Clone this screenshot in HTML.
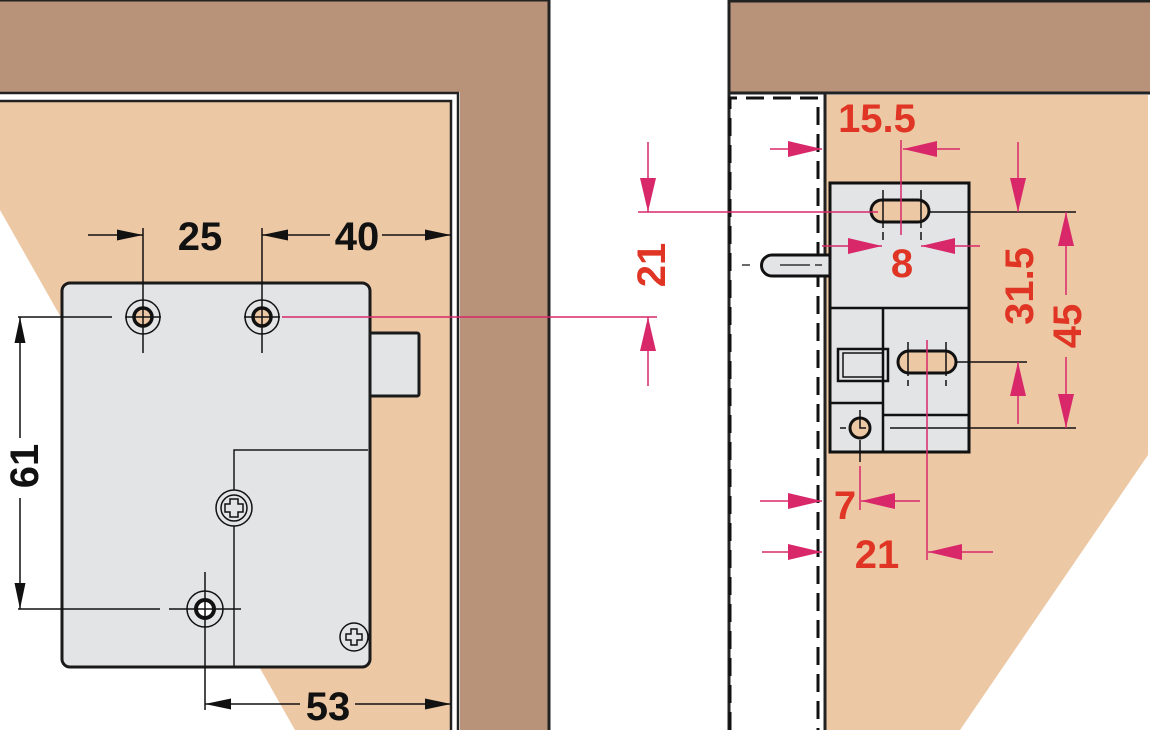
<!DOCTYPE html>
<html><head><meta charset="utf-8"><style>
html,body{margin:0;padding:0;background:#fff}
svg{display:block}
text{font-family:"Liberation Sans",sans-serif;font-weight:bold}
</style></head><body>
<svg width="1150" height="730" viewBox="0 0 1150 730" xmlns="http://www.w3.org/2000/svg">
<defs>
<marker id="m" viewBox="0 0 34 16" refX="34" refY="8" markerWidth="34" markerHeight="16" markerUnits="userSpaceOnUse" orient="auto"><path d="M0,0 L34,8 L0,16 Z" fill="#d8286a"/></marker>
<marker id="b" viewBox="0 0 26 11" refX="26" refY="5.5" markerWidth="26" markerHeight="11" markerUnits="userSpaceOnUse" orient="auto"><path d="M0,0 L26,5.5 L0,11 Z" fill="#111"/></marker>
</defs>
<!-- LEFT -->
<rect x="0" y="0" width="549" height="730" fill="#b8937a"/>
<path d="M0,0 H549 V730" fill="none" stroke="#222" stroke-width="3"/>
<rect x="0" y="92" width="460" height="640" fill="#fff"/>
<path d="M0,93 H458 V730" fill="none" stroke="#222" stroke-width="2.5"/>
<polygon points="0,101 451,101 451,730 295,730 0,210" fill="#ecc8a4"/>
<path d="M0,101 H451 V730" fill="none" stroke="#222" stroke-width="2.5"/>
<rect x="366" y="333" width="53" height="63" rx="2" fill="#e3e4e6" stroke="#1a1a1a" stroke-width="3"/>
<rect x="62" y="283" width="308" height="384" rx="8" fill="#e3e4e6" stroke="#1a1a1a" stroke-width="3"/>
<path d="M234,667 V450 H368" fill="none" stroke="#1a1a1a" stroke-width="1.5"/>
<g fill="none" stroke="#111">
<circle cx="143" cy="317" r="17" stroke-width="1.5"/>
<circle cx="143" cy="317" r="9" stroke-width="3.5" fill="#ecc8a4"/>
<circle cx="262" cy="317" r="17" stroke-width="1.5"/>
<circle cx="262" cy="317" r="9" stroke-width="3.5" fill="#ecc8a4"/>
<path d="M143,228 V353 M125,317 H161 M262,228 V353 M244,317 H280" stroke-width="1.5"/>
<path d="M18,317 H112" stroke-width="1.5"/>
<circle cx="234" cy="508" r="18" stroke-width="1.5" fill="#e3e4e6"/>
<circle cx="234" cy="508" r="13" stroke-width="1.5"/>
<path d="M230,499 h8 v5 h5 v8 h-5 v5 h-8 v-5 h-5 v-8 h5 z" stroke-width="1.5"/>
<circle cx="354" cy="637" r="14" stroke-width="1.5"/>
<path d="M351,629 h6 v5 h5 v6 h-5 v5 h-6 v-5 h-5 v-6 h5 z" stroke-width="1.5"/>
<circle cx="205" cy="609" r="18" stroke-width="1.5"/>
<circle cx="205" cy="609" r="9" stroke-width="4" fill="#fff"/>
<path d="M205,572 V710 M169,609 H241 M205,609 V603 M205,609 H210" stroke-width="1.5"/>
<path d="M18,609 H160" stroke-width="1.5"/>
</g>
<g stroke="#111" stroke-width="1.5" fill="none">
<line x1="88" y1="235" x2="143" y2="235" marker-end="url(#b)"/>
<line x1="330" y1="235" x2="262" y2="235" marker-end="url(#b)"/>
<line x1="382" y1="235" x2="451" y2="235" marker-end="url(#b)"/>
<line x1="20" y1="438" x2="20" y2="317" marker-end="url(#b)"/>
<line x1="20" y1="498" x2="20" y2="609" marker-end="url(#b)"/>
<line x1="300" y1="704" x2="205" y2="704" marker-end="url(#b)"/>
<line x1="355" y1="704" x2="451" y2="704" marker-end="url(#b)"/>
</g>
<text x="200" y="250" font-size="40" text-anchor="middle" fill="#111">25</text>
<text x="357" y="250" font-size="40" text-anchor="middle" fill="#111">40</text>
<text x="328" y="720" font-size="40" text-anchor="middle" fill="#111">53</text>
<text transform="translate(38,466) rotate(-90)" font-size="40" text-anchor="middle" fill="#111">61</text>
<line x1="282" y1="317" x2="657" y2="317" stroke="#d8286a" stroke-width="1.5"/>
<!-- RIGHT -->
<rect x="729" y="0" width="421" height="93" fill="#b8937a"/>
<path d="M729,730 V1 H1150" fill="none" stroke="#222" stroke-width="3"/>
<line x1="729" y1="93" x2="1150" y2="93" stroke="#222" stroke-width="3"/>
<polygon points="825,95 1148,95 1148,455 960,730 825,730" fill="#ecc8a4"/>
<line x1="825" y1="93" x2="825" y2="730" stroke="#222" stroke-width="3"/>
<path d="M730,730 V98 H818 V730" fill="none" stroke="#111" stroke-width="3" stroke-dasharray="18,9"/>
<path d="M830,255 H772 A10,10 0 0 0 772,276 H830" fill="#e3e4e6" stroke="#111" stroke-width="3"/>
<path d="M742,265 H750 M780,265 H810 M815,265 H822 M836,265 H850" stroke="#111" stroke-width="1.3"/>
<rect x="830" y="183" width="139" height="269" fill="#e3e4e6" stroke="#111" stroke-width="3"/>
<g stroke="#111" fill="none">
<path d="M830,308 H969 M883,308 V415 H969 M830,403 H883 V452" stroke-width="2.5"/>
<rect x="838" y="349" width="50" height="32" stroke-width="2.5"/>
<rect x="843" y="353" width="40" height="24" stroke-width="1.5"/>
<rect x="871" y="200" width="58" height="22" rx="11" stroke-width="3" fill="#ecc8a4"/>
<rect x="898" y="351" width="58" height="22" rx="11" stroke-width="3" fill="#ecc8a4"/>
<path d="M883,190 V228 M921,190 V228 M883,232 V240 M921,232 V240 M908,342 V376 M946,342 V376 M908,380 V386 M946,380 V386" stroke-width="1.5"/>
<path d="M929,212 H1076 M956,362 H1027 M890,428 H1076" stroke-width="1.5"/>
<circle cx="860" cy="428" r="10" stroke-width="3" fill="#ecc8a4"/>
<path d="M860,410 V418 M860,418 V428 H866 M840,428 H846 M860,440 V462" stroke-width="1.5"/>
</g>
<g stroke="#d8286a" stroke-width="1.5" fill="none">
<line x1="638" y1="212" x2="878" y2="212"/>
<line x1="648" y1="142" x2="648" y2="212" marker-end="url(#m)"/>
<line x1="648" y1="386" x2="648" y2="317" marker-end="url(#m)"/>
<line x1="770" y1="149" x2="822" y2="149" marker-end="url(#m)"/>
<line x1="901" y1="140" x2="901" y2="235"/>
<line x1="960" y1="149" x2="903" y2="149" marker-end="url(#m)"/>
<line x1="822" y1="246" x2="882" y2="246" marker-end="url(#m)"/>
<line x1="980" y1="246" x2="921" y2="246" marker-end="url(#m)"/>
<line x1="1018" y1="142" x2="1018" y2="212" marker-end="url(#m)"/>
<line x1="1018" y1="424" x2="1018" y2="362" marker-end="url(#m)"/>
<line x1="1066" y1="295" x2="1066" y2="212" marker-end="url(#m)"/>
<line x1="1066" y1="357" x2="1066" y2="428" marker-end="url(#m)"/>
<line x1="927" y1="340" x2="927" y2="560"/>
<line x1="860" y1="466" x2="860" y2="510"/>
<line x1="760" y1="501" x2="822" y2="501" marker-end="url(#m)"/>
<line x1="920" y1="501" x2="861" y2="501" marker-end="url(#m)"/>
<line x1="762" y1="552" x2="822" y2="552" marker-end="url(#m)"/>
<line x1="993" y1="552" x2="928" y2="552" marker-end="url(#m)"/>
</g>
<g fill="#e03424" font-size="40">
<text x="877" y="132" text-anchor="middle">15.5</text>
<text x="902" y="277" text-anchor="middle">8</text>
<text x="845" y="519" text-anchor="middle">7</text>
<text x="877" y="568" text-anchor="middle">21</text>
<text transform="translate(665,265) rotate(-90)" text-anchor="middle">21</text>
<text transform="translate(1033,286) rotate(-90)" text-anchor="middle">31.5</text>
<text transform="translate(1081,326) rotate(-90)" text-anchor="middle">45</text>
</g>
</svg>
</body></html>
